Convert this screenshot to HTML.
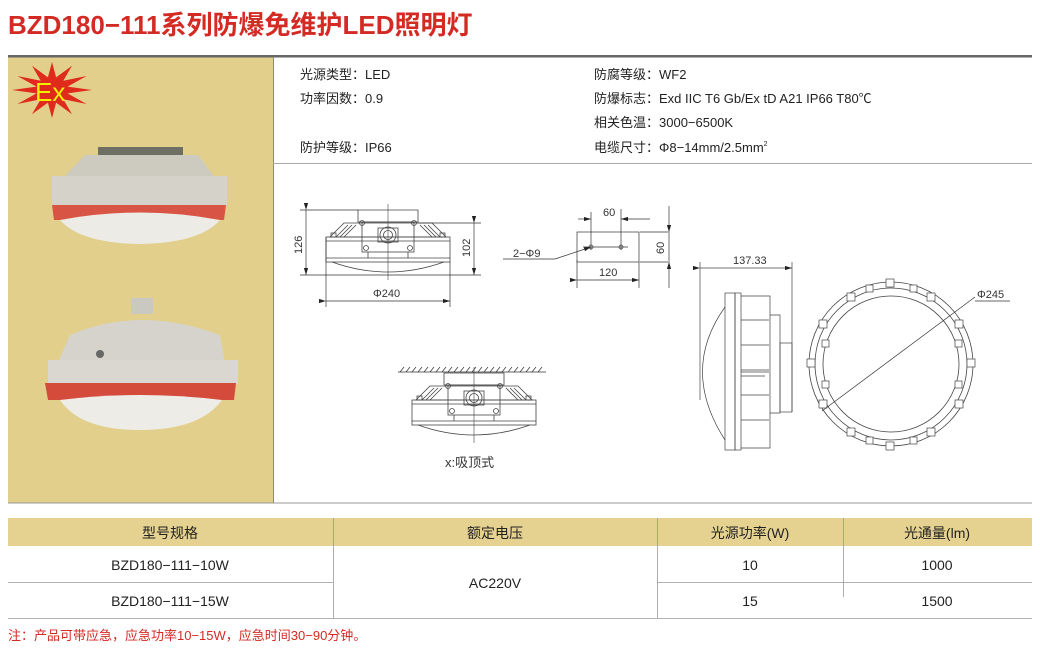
<!DOCTYPE html>
<html><head><meta charset="utf-8"><style>
body{margin:0;background:#fff;width:1040px;height:657px;overflow:hidden;font-family:"Liberation Sans","Noto Sans CJK SC",sans-serif}
svg{display:block}
</style></head><body>
<svg width="1040" height="657" viewBox="0 0 1040 657" xmlns="http://www.w3.org/2000/svg" font-family="Liberation Sans, Noto Sans CJK SC, sans-serif">
<defs>
<g id="lamp" fill="none" stroke="#444" stroke-width="0.8">
 <path d="M-44 13 L44 13 L58 27 L-58 27 Z"/>
 <path d="M-40 15 L-52 27 M-36 15 L-48 27 M-32 15 L-44 27 M40 15 L52 27 M36 15 L48 27 M32 15 L44 27"/>
 <rect x="-62" y="27" width="124" height="25"/>
 <rect x="-57" y="23" width="5" height="4"/>
 <rect x="52" y="23" width="5" height="4"/>
 <line x1="-62" y1="31" x2="62" y2="31"/>
 <line x1="-62" y1="48" x2="62" y2="48"/>
 <path d="M-56 52 Q0 72 56 52"/>
 <path d="M-30 0 L-30 12 L30 12 L30 0 Z"/>
 <rect x="-26" y="12" width="52" height="30"/>
 <rect x="-10" y="18" width="20" height="14"/>
 <circle cx="0" cy="25" r="8"/><circle cx="0" cy="25" r="4.5"/>
 <circle cx="-26" cy="13" r="2.5"/><circle cx="26" cy="13" r="2.5"/>
 <circle cx="-22" cy="38" r="2.5"/><circle cx="22" cy="38" r="2.5"/>
 <line x1="-20" y1="42" x2="-20" y2="48"/><line x1="20" y1="42" x2="20" y2="48"/>
 <line x1="0" y1="-6" x2="0" y2="70" stroke-width="0.6"/>
</g>
<marker id="ar" markerWidth="10" markerHeight="6" refX="10" refY="3" orient="auto"><path d="M0 0 L10 3 L0 6 Z" fill="#222"/></marker>
</defs>

<text x="8" y="34" font-size="26" font-weight="bold" fill="#d42a24">BZD180−111系列防爆免维护LED照明灯</text>

<rect x="8" y="55" width="1024" height="2.5" fill="#666"/>
<rect x="8" y="57.5" width="265" height="445" fill="#e2cf8c"/>
<line x1="273.5" y1="57" x2="273.5" y2="503" stroke="#888"/>
<line x1="273" y1="163.5" x2="1032" y2="163.5" stroke="#aaa"/>
<line x1="8" y1="503" x2="1032" y2="503" stroke="#999"/>

<!-- Ex star -->
<polygon fill="#e02a1c" points="92,90 67.5,86.6 86.6,76 63.3,80.8 72,65.8 56.1,77.4 52,62 47.9,77.4 32,65.8 40.7,80.8 17.4,76 36.5,86.6 12,90 36.5,93.4 17.4,104 40.7,99.2 32,114.2 47.9,102.6 52,118 56.1,102.6 72,114.2 63.3,99.2 86.6,104 67.5,93.4"/>
<text x="35" y="101" font-size="26" fill="#f2f000">Ex</text>

<!-- photo 1 -->
<g>
 <rect x="98" y="147" width="85" height="12" fill="#6d6f63"/>
 <path d="M85 155 L198 155 L213 175 L220 205 L60 205 L66 175 Z" fill="#cdcac0"/>
 <rect x="52" y="176" width="175" height="30" fill="#d5d3c9"/>
 <path d="M52 205 L226 205 L224 220 L54 220 Z" fill="#d85545"/>
 <path d="M60 220 Q140 205 220 220 Q200 243 140 244 Q80 243 60 220 Z" fill="#ecebe6"/>
</g>
<!-- photo 2 -->
<g>
 <rect x="131" y="298" width="22" height="16" fill="#c9c9c2"/>
 <path d="M70 335 Q140 305 220 335 L228 380 L50 380 Z" fill="#d5d3cb"/>
 <rect x="48" y="360" width="190" height="24" fill="#d9d7d0"/>
 <circle cx="100" cy="354" r="4" fill="#666"/>
 <path d="M45 383 L236 383 L234 400 L48 400 Z" fill="#d44b3c"/>
 <path d="M60 400 Q140 390 222 400 Q200 430 140 430 Q80 430 60 400 Z" fill="#eeece6"/>
</g>

<!-- specs -->
<g font-size="13" fill="#222">
 <text x="300" y="79">光源类型：LED</text>
 <text x="300" y="103">功率因数：0.9</text>
 <text x="300" y="152">防护等级：IP66</text>
 <text x="594" y="79">防腐等级：WF2</text>
 <text x="594" y="103">防爆标志：Exd IIC T6 Gb/Ex tD A21 IP66 T80℃</text>
 <text x="594" y="127">相关色温：3000−6500K</text>
 <text x="594" y="152">电缆尺寸：Φ8−14mm/2.5mm<tspan font-size="7" dy="-6">2</tspan></text>
</g>

<!-- front view -->
<use href="#lamp" transform="translate(388,210)"/>
<g stroke="#333" stroke-width="0.7" fill="none">
 <line x1="300" y1="210" x2="358" y2="210"/><line x1="300" y1="275" x2="450" y2="275"/>
 <line x1="306" y1="210" x2="306" y2="275" marker-start="url(#ar)" marker-end="url(#ar)"/>
 <line x1="418" y1="223" x2="481" y2="223"/><line x1="450" y1="275" x2="481" y2="275"/>
 <line x1="474" y1="223" x2="474" y2="275" marker-start="url(#ar)" marker-end="url(#ar)"/>
 <line x1="326" y1="237" x2="326" y2="307"/><line x1="450" y1="262" x2="450" y2="307"/>
 <line x1="326" y1="301" x2="450" y2="301" marker-start="url(#ar)" marker-end="url(#ar)"/>
</g>
<g font-size="11" fill="#333">
 <text x="302" y="254" transform="rotate(-90 302 254)">126</text>
 <text x="470" y="257" transform="rotate(-90 470 257)">102</text>
 <text x="373" y="297">Φ240</text>
</g>

<!-- mounting plate -->
<g stroke="#333" stroke-width="0.7" fill="none">
 <rect x="577" y="232" width="62" height="30"/>
 <line x1="591" y1="212" x2="591" y2="250"/><line x1="621" y1="209" x2="621" y2="250"/>
 <line x1="578" y1="219" x2="591" y2="219" marker-end="url(#ar)"/>
 <line x1="650" y1="219" x2="621" y2="219" marker-end="url(#ar)"/>
 <line x1="577" y1="260" x2="577" y2="288"/><line x1="639" y1="262" x2="639" y2="288"/>
 <line x1="577" y1="280" x2="639" y2="280" marker-start="url(#ar)" marker-end="url(#ar)"/>
 <line x1="640" y1="232" x2="668" y2="232"/><line x1="640" y1="262" x2="668" y2="262"/>
 <line x1="669" y1="206" x2="669" y2="232" marker-end="url(#ar)"/>
 <line x1="669" y1="288" x2="669" y2="262" marker-end="url(#ar)"/>
 <line x1="669" y1="232" x2="669" y2="262"/>
 <line x1="583" y1="247" x2="628" y2="247"/>
 <circle cx="591" cy="247" r="2"/><circle cx="621" cy="247" r="2"/>
 <line x1="503" y1="259" x2="555" y2="259"/>
 <line x1="555" y1="259" x2="591" y2="247" marker-end="url(#ar)"/>
</g>
<g font-size="11" fill="#333">
 <text x="603" y="216">60</text>
 <text x="599" y="276">120</text>
 <text x="664" y="254" transform="rotate(-90 664 254)">60</text>
 <text x="513" y="257">2−Φ9</text>
</g>

<!-- ceiling view -->
<g stroke="#333" stroke-width="0.7">
 <line x1="398" y1="372" x2="546" y2="372"/>
 <path d="M400 372 l4 -5 M406 372 l4 -5 M412 372 l4 -5 M418 372 l4 -5 M424 372 l4 -5 M430 372 l4 -5 M436 372 l4 -5 M442 372 l4 -5 M448 372 l4 -5 M454 372 l4 -5 M460 372 l4 -5 M466 372 l4 -5 M472 372 l4 -5 M478 372 l4 -5 M484 372 l4 -5 M490 372 l4 -5 M496 372 l4 -5 M502 372 l4 -5 M508 372 l4 -5 M514 372 l4 -5 M520 372 l4 -5 M526 372 l4 -5 M532 372 l4 -5 M538 372 l4 -5"/>
</g>
<use href="#lamp" transform="translate(474,373)"/>
<text x="445" y="467" font-size="13" fill="#333">x:吸顶式</text>

<!-- side view -->
<g stroke="#444" stroke-width="0.7" fill="none">
 <line x1="700" y1="268" x2="792" y2="268" marker-start="url(#ar)" marker-end="url(#ar)"/>
 <line x1="700" y1="262" x2="700" y2="400"/><line x1="792" y1="262" x2="792" y2="412"/>
 <rect x="725" y="293" width="10" height="157"/>
 <rect x="735" y="293" width="6" height="157"/>
 <path d="M741 296 L770 296 L770 448 L741 448"/>
 <path d="M770 315 L780 315 L780 413 L770 413"/>
 <rect x="780" y="343" width="12" height="69"/>
 <path d="M741 320 h28 M741 345 h28 M741 370 h28 M741 395 h28 M741 420 h28"/>
 <path d="M725 307 Q680 370 725 440"/>
 <path d="M741 372 h28 M741 376 h24"/>
</g>
<text x="733" y="264" font-size="11" fill="#333">137.33</text>

<!-- ring -->
<g stroke="#444" stroke-width="0.8" fill="none">
 <circle cx="891" cy="364" r="82"/>
 <circle cx="891" cy="364" r="76"/>
 <circle cx="891" cy="364" r="68"/>
</g>
<g fill="#fff" stroke="#444" stroke-width="0.7">
 <rect x="886" y="279" width="8" height="8"/><rect x="886" y="442" width="8" height="8"/>
 <rect x="807" y="359" width="8" height="8"/><rect x="967" y="359" width="8" height="8"/>
 <rect x="847" y="293" width="8" height="8"/><rect x="927" y="293" width="8" height="8"/>
 <rect x="847" y="428" width="8" height="8"/><rect x="927" y="428" width="8" height="8"/>
 <rect x="819" y="320" width="8" height="8"/><rect x="955" y="320" width="8" height="8"/>
 <rect x="819" y="400" width="8" height="8"/><rect x="955" y="400" width="8" height="8"/>
 <rect x="822" y="340" width="7" height="7"/><rect x="955" y="340" width="7" height="7"/>
 <rect x="822" y="381" width="7" height="7"/><rect x="955" y="381" width="7" height="7"/>
 <rect x="866" y="285" width="7" height="7"/><rect x="910" y="285" width="7" height="7"/>
 <rect x="866" y="437" width="7" height="7"/><rect x="910" y="437" width="7" height="7"/>
</g>
<g stroke="#333" stroke-width="0.7">
 <line x1="822" y1="411" x2="967" y2="303"/>
 <line x1="967" y1="303" x2="975" y2="297"/>
 <line x1="975" y1="301" x2="1010" y2="301"/>
</g>
<text x="977" y="298" font-size="11" fill="#333">Φ245</text>

<!-- table -->
<rect x="8" y="518" width="1024" height="28" fill="#e6d290"/>
<g stroke="#999" stroke-width="0.8">
 <line x1="8" y1="582.5" x2="333" y2="582.5"/>
 <line x1="657" y1="582.5" x2="1032" y2="582.5"/>
 <line x1="8" y1="618.5" x2="1032" y2="618.5"/>
 <line x1="333.5" y1="518" x2="333.5" y2="618"/>
 <line x1="657.5" y1="518" x2="657.5" y2="618"/>
 <line x1="843.5" y1="518" x2="843.5" y2="597"/>
</g>
<g font-size="14" fill="#222" text-anchor="middle">
 <text x="170" y="538">型号规格</text>
 <text x="495" y="538">额定电压</text>
 <text x="750" y="538">光源功率(W)</text>
 <text x="937" y="538">光通量(lm)</text>
 <text x="170" y="570">BZD180−111−10W</text>
 <text x="170" y="606">BZD180−111−15W</text>
 <text x="495" y="588">AC220V</text>
 <text x="750" y="570">10</text>
 <text x="750" y="606">15</text>
 <text x="937" y="570">1000</text>
 <text x="937" y="606">1500</text>
</g>
<text x="8" y="640" font-size="13" fill="#d42a24">注：产品可带应急，应急功率10−15W，应急时间30−90分钟。</text>
</svg>
</body></html>
